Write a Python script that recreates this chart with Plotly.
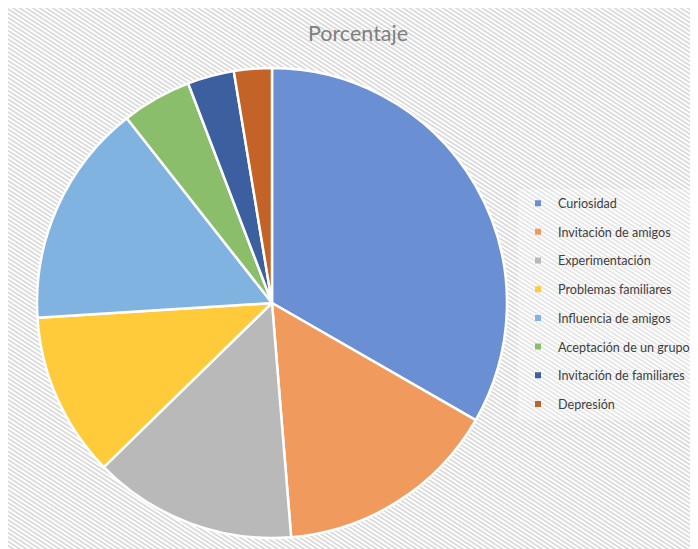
import base64
import plotly.graph_objects as go

# ---- data ----
categories = ["Curiosidad", "Invitación de amigos", "Experimentación",
              "Problemas familiares", "Influencia de amigos",
              "Aceptación de un grupo", "Invitación de familiares", "Depresión"]
values = [33.3, 15.4, 14.0, 11.3, 15.4, 4.8, 3.2, 2.6]
title_text = "Porcentaje"

# ---- styles ----
colors = ["#6A8FD2", "#F09A5E", "#B9B9B9", "#FFCB3A",
          "#80B3E0", "#8BBE6A", "#3B5F9F", "#C36328"]

W, H = 698, 549

# hatched background as an svg pattern
svg = f'''<svg xmlns="http://www.w3.org/2000/svg" width="{W}" height="{H}">
<defs><pattern id="p" patternUnits="userSpaceOnUse" width="8" height="3.6"
 patternTransform="rotate(33)"><rect x="0" y="0" width="8" height="1.7" fill="#d9d9d9"/></pattern></defs>
<rect width="100%" height="100%" fill="#ffffff"/>
<rect width="100%" height="100%" fill="url(#p)"/>
</svg>'''
src = "data:image/svg+xml;base64," + base64.b64encode(svg.encode()).decode()

fig = go.Figure()

cx, cy, r = 264, 295, 235
fig.add_trace(go.Pie(
    labels=categories, values=values, sort=False, direction="clockwise",
    rotation=0, textinfo="none", hoverinfo="label+percent",
    marker=dict(colors=colors, line=dict(color="white", width=2.5)),
    showlegend=False,
    domain=dict(x=[(cx - r) / W, (cx + r) / W],
                y=[(H - cy - r) / H, (H - cy + r) / H]),
))

for i, (cat, col) in enumerate(zip(categories, colors)):
    fig.add_trace(go.Scatter(
        x=[None], y=[None], mode="markers", name=cat, legendgroup=str(i),
        marker=dict(symbol="square", size=6, color=col), hoverinfo="skip",
    ))

fig.update_layout(
    width=W, height=H,
    margin=dict(l=0, r=0, t=0, b=0),
    paper_bgcolor="white", plot_bgcolor="rgba(0,0,0,0)",
    xaxis=dict(visible=False), yaxis=dict(visible=False),
    title=dict(text=title_text, x=350 / W, xanchor="center",
               y=1 - 25 / H, yanchor="middle", yref="container",
               font=dict(family="Lato, Open Sans, sans-serif", size=21.5, color="#7F7F7F")),
    legend=dict(x=510 / W, xanchor="left", y=1 - 296 / H, yanchor="middle",
                traceorder="grouped", tracegroupgap=9.3, itemwidth=30,
                bgcolor="rgba(255,255,255,0.3)",
                font=dict(family="Lato, Open Sans, sans-serif", size=12.6, color="#404040")),
    images=[dict(source=src, xref="paper", yref="paper", x=0, y=1,
                 sizex=1, sizey=1, xanchor="left", yanchor="top",
                 sizing="stretch", layer="below")],
)

fig.write_html("out.html")
